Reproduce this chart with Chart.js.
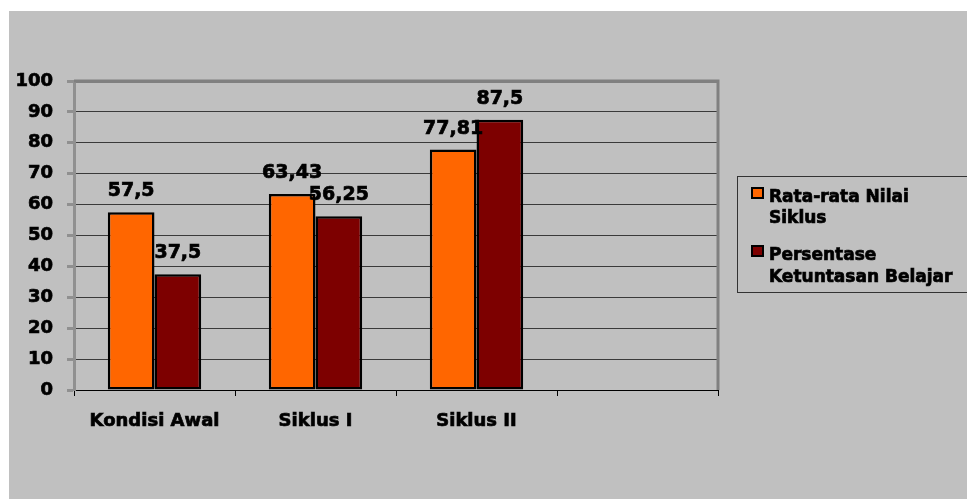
<!DOCTYPE html>
<html>
<head>
<meta charset="utf-8">
<script src="https://cdn.jsdelivr.net/npm/chart.js@4.4.1/dist/chart.umd.min.js"></script>
<style>
  html, body { margin: 0; padding: 0; background: #ffffff; }
  #box { position: absolute; left: 9px; top: 11px; width: 958px; height: 488px; background: #c0c0c0; }
</style>
</head>
<body>
<div id="box"><canvas id="chart"></canvas></div>
<script>
// data
const categories = ["Kondisi Awal", "Siklus I", "Siklus II", ""];
const rataRata = [57.5, 63.43, 77.81, null];
const persentase = [37.5, 56.25, 87.5, null];
const yTicks = [0, 10, 20, 30, 40, 50, 60, 70, 80, 90, 100];
const legendLines = [
    ["Rata-rata Nilai", "Siklus"],
    ["Persentase", "Ketuntasan Belajar"]
];

const ORANGE = "#ff6600";
const MAROON = "#7d0000";
const FONT = "DejaVu Sans";
const STROKE = 0.7; // thickens the bold face a bit, the original is heavier

function heavyText(ctx, t, x, y) {
    ctx.strokeText(t, x, y);
    ctx.fillText(t, x, y);
}

// value labels over the bars, comma decimals
const valueLabels = {
    id: "valueLabels",
    afterDatasetsDraw(chart) {
        const ctx = chart.ctx;
        ctx.save();
        ctx.font = "bold 19px '" + FONT + "'";
        ctx.fillStyle = "#000";
        ctx.strokeStyle = "#000";
        ctx.lineWidth = STROKE;
        ctx.textAlign = "center";
        ctx.textBaseline = "alphabetic";
        chart.data.datasets.forEach((ds, i) => {
            chart.getDatasetMeta(i).data.forEach((bar, j) => {
                const v = ds.data[j];
                if (v == null) return;
                heavyText(ctx, String(v).replace(".", ","), bar.x, bar.y - 16);
            });
        });
        ctx.restore();
    }
};

// grey frame on top/right of plot + boxed legend on the right
const frameAndLegend = {
    id: "frameAndLegend",
    afterDraw(chart) {
        const ctx = chart.ctx;
        const a = chart.chartArea;
        ctx.save();
        ctx.strokeStyle = "#808080";
        ctx.lineWidth = 3;
        ctx.beginPath();
        ctx.moveTo(a.left, a.top);
        ctx.lineTo(a.right, a.top);
        ctx.lineTo(a.right, a.bottom);
        ctx.stroke();

        // legend
        ctx.strokeStyle = "#333";
        ctx.lineWidth = 1;
        ctx.strokeRect(728.5, 165.5, 260, 116);
        const colors = [ORANGE, MAROON];
        const markerY = [177, 235];
        const baselines = [[191, 212], [249, 271]];
        ctx.font = "bold 17px '" + FONT + "'";
        ctx.textAlign = "left";
        ctx.textBaseline = "alphabetic";
        legendLines.forEach((lines, i) => {
            ctx.fillStyle = colors[i];
            ctx.fillRect(743, markerY[i], 11, 10);
            ctx.strokeStyle = "#000";
            ctx.lineWidth = 2;
            ctx.strokeRect(743, markerY[i], 11, 10);
            ctx.fillStyle = "#000";
            ctx.lineWidth = STROKE;
            lines.forEach((t, k) => heavyText(ctx, t, 760, baselines[i][k]));
        });
        ctx.restore();
    }
};

new Chart(document.getElementById("chart"), {
    type: "bar",
    data: {
        labels: categories,
        datasets: [{
            label: "Rata-rata Nilai Siklus",
            data: rataRata,
            backgroundColor: ORANGE,
            borderColor: "#000",
            borderWidth: 2.5,
            borderSkipped: false,
            inflateAmount: 0
        }, {
            label: "Persentase Ketuntasan Belajar",
            data: persentase,
            backgroundColor: MAROON,
            borderColor: "#000",
            borderWidth: 2.5,
            borderSkipped: false,
            inflateAmount: 0
        }]
    },
    options: {
        responsive: true,
        maintainAspectRatio: false,
        animation: false,
        layout: {
            padding: { top: 70, right: 249, left: 0, bottom: 0 }
        },
        plugins: {
            legend: { display: false },
            tooltip: { enabled: false }
        },
        datasets: {
            bar: { categoryPercentage: 0.58, barPercentage: 1 }
        },
        scales: {
            x: {
                afterFit(s) { s.height = 109; },
                grid: {
                    drawOnChartArea: false,
                    drawTicks: true,
                    tickLength: 6,
                    tickColor: "#000",
                    tickWidth: 1
                },
                border: { color: "#000", width: 1 },
                ticks: {
                    color: "#000",
                    textStrokeColor: "#000",
                    textStrokeWidth: STROKE,
                    font: { family: FONT, size: 18, weight: "bold" },
                    padding: 15,
                    maxRotation: 0
                }
            },
            y: {
                min: 0,
                max: 100,
                afterFit(s) { s.width = 65; },
                afterBuildTicks(s) { s.ticks = yTicks.map(v => ({ value: v })); },
                grid: {
                    color: c => c.tick && c.tick.value === 100 ? "#808080" : "#3a3a3a",
                    lineWidth: c => c.tick && c.tick.value === 100 ? 3 : 1,
                    tickLength: 7,
                    tickColor: "#909090",
                    tickWidth: 3
                },
                border: { color: "#909090", width: 3 },
                ticks: {
                    color: "#000",
                    textStrokeColor: "#000",
                    textStrokeWidth: STROKE,
                    font: { family: FONT, size: 18, weight: "bold" },
                    padding: 14
                }
            }
        }
    },
    plugins: [valueLabels, frameAndLegend]
});
</script>
</body>
</html>
